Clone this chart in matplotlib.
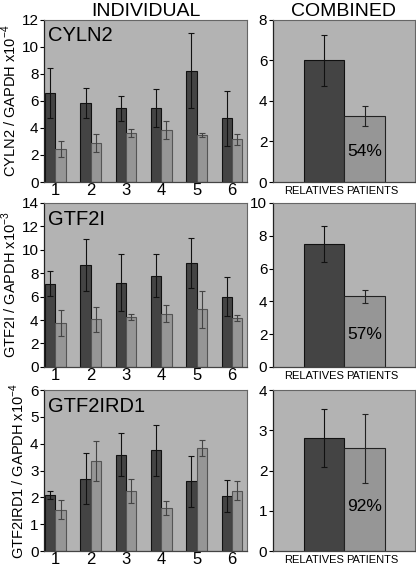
import numpy as np
import matplotlib.pyplot as plt

plt.rcParams['font.family'] = ['Liberation Sans', 'DejaVu Sans']
plt.rcParams['mathtext.fontset'] = 'custom'
plt.rcParams['mathtext.rm'] = 'Liberation Sans'

groups = ['1', '2', '3', '4', '5', '6']
genes = ['CYLN2', 'GTF2I', 'GTF2IRD1']
ylabels = ['CYLN2 / GAPDH x10$^{-4}$', 'GTF2I / GAPDH x10$^{-3}$', 'GTF2IRD1 / GAPDH x10$^{-4}$']

# individual families: relatives vs patients
cyln2_rel = [6.6, 5.85, 5.45, 5.45, 8.25, 4.7]
cyln2_rel_err = [1.85, 1.1, 0.9, 1.4, 2.8, 2.05]
cyln2_pat = [2.45, 2.9, 3.6, 3.85, 3.45, 3.15]
cyln2_pat_err = [0.6, 0.65, 0.3, 0.7, 0.15, 0.4]

gtf2i_rel = [7.1, 8.7, 7.2, 7.8, 8.85, 6.0]
gtf2i_rel_err = [1.05, 2.2, 2.45, 1.85, 2.15, 1.65]
gtf2i_pat = [3.75, 4.05, 4.25, 4.55, 4.9, 4.15]
gtf2i_pat_err = [1.1, 1.05, 0.25, 0.75, 1.55, 0.25]

gtf2ird1_rel = [2.1, 2.7, 3.6, 3.75, 2.6, 2.05]
gtf2ird1_rel_err = [0.15, 0.95, 0.8, 0.95, 0.95, 0.6]
gtf2ird1_pat = [1.55, 3.35, 2.25, 1.6, 3.85, 2.25]
gtf2ird1_pat_err = [0.35, 0.75, 0.45, 0.25, 0.3, 0.35]

# combined
comb_labels = ['RELATIVES', 'PATIENTS']
comb_rel = [6.0, 7.5, 2.8]
comb_rel_err = [1.25, 1.1, 0.72]
comb_pat = [3.25, 4.3, 2.55]
comb_pat_err = [0.5, 0.4, 0.85]
comb_pct = ['54%', '57%', '92%']

ind_ylim = [12, 14, 6]
comb_ylim = [8, 10, 4]
pct_y = [1.5, 1.95, 1.12]   # where the percentage label sits

rel = [cyln2_rel, gtf2i_rel, gtf2ird1_rel]
rel_err = [cyln2_rel_err, gtf2i_rel_err, gtf2ird1_rel_err]
pat = [cyln2_pat, gtf2i_pat, gtf2ird1_pat]
pat_err = [cyln2_pat_err, gtf2i_pat_err, gtf2ird1_pat_err]

bg = '#b3b3b3'
dark = '#444444'
light = '#969696'

fig = plt.figure(figsize=(4.16, 5.67), dpi=100)
rows = [(0.679, 0.286), (0.353, 0.289), (0.028, 0.284)]

for r in range(3):
    b, h = rows[r]
    ax = fig.add_axes([0.106, b, 0.488, h])
    ax2 = fig.add_axes([0.656, b, 0.341, h])

    x = np.arange(1, 7)
    w = 0.29
    ax.bar(x - w / 2, rel[r], w, color=dark, edgecolor='#111111', linewidth=0.8,
           yerr=rel_err[r], error_kw=dict(ecolor='#111111', elinewidth=0.8, capsize=2, capthick=0.8))
    ax.bar(x + w / 2, pat[r], w, color=light, edgecolor='#555555', linewidth=0.8,
           yerr=pat_err[r], error_kw=dict(ecolor='#444444', elinewidth=0.8, capsize=2, capthick=0.8))
    ax.set_xlim(0.68, 6.43)
    ax.set_ylim(0, ind_ylim[r])
    ax.set_yticks(np.arange(0, ind_ylim[r] + 1, 2 if r < 2 else 1))
    ax.set_xticks(x)
    ax.set_xticklabels(groups, fontsize=12)
    ax.tick_params(axis='x', length=0, pad=0.5)
    ax.tick_params(axis='y', labelsize=11, length=3, width=0.8, pad=1)
    ax.set_ylabel(ylabels[r], fontsize=10.5, labelpad=2)
    ax.text(0.02, 0.96, genes[r], transform=ax.transAxes, fontsize=14.5, va='top', ha='left')

    xc = [0.36, 0.647]
    w2 = 0.287
    ax2.bar(xc[0], comb_rel[r], w2, color=dark, edgecolor='#111111', linewidth=0.8,
            yerr=comb_rel_err[r], error_kw=dict(ecolor='#111111', elinewidth=0.8, capsize=2, capthick=0.8))
    ax2.bar(xc[1], comb_pat[r], w2, color=light, edgecolor='#222222', linewidth=0.8,
            yerr=comb_pat_err[r], error_kw=dict(ecolor='#222222', elinewidth=0.8, capsize=2, capthick=0.8))
    ax2.text(xc[1], pct_y[r], comb_pct[r], fontsize=12.5, ha='center', va='center')
    ax2.set_xlim(0, 1)
    ax2.set_ylim(0, comb_ylim[r])
    ax2.set_yticks(np.arange(0, comb_ylim[r] + 1, 2 if r < 2 else 1))
    ax2.set_xticks([0.29, 0.70])
    ax2.set_xticklabels(comb_labels, fontsize=8)
    ax2.tick_params(axis='x', length=0, pad=3)
    ax2.tick_params(axis='y', labelsize=11, length=3, width=0.8, pad=1)

    for a in (ax, ax2):
        a.set_facecolor(bg)
        for s in ('top', 'right'):
            a.spines[s].set_color('#666666')
            a.spines[s].set_linewidth(0.8)
        a.spines['left'].set_color('#222222')
        a.spines['bottom'].set_color('#444444')
        a.spines['left'].set_linewidth(0.9)
        a.spines['bottom'].set_linewidth(0.9)

    if r == 0:
        ax.set_title('INDIVIDUAL', fontsize=14, pad=2)
        ax2.set_title('COMBINED', fontsize=14, pad=2)

fig.savefig('out.png', dpi=100)
